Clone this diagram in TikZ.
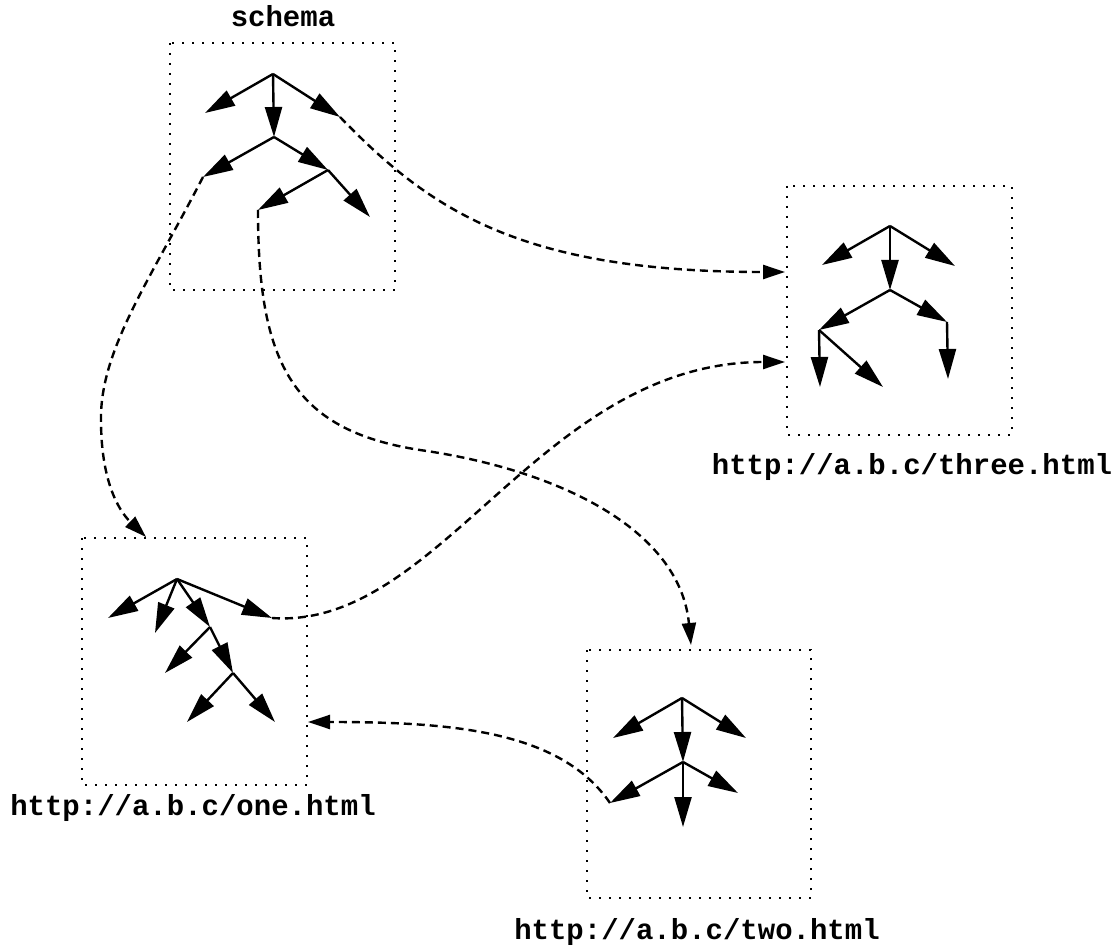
\documentclass[tikz,border=0pt]{standalone}
\usepackage{fontspec}
\setmonofont{Liberation Mono}
\usetikzlibrary{arrows.meta}
\tikzset{
	page/.style={draw, line width=2pt, dash pattern=on 2pt off 8pt},
	branch/.style={line width=2.4pt, -{Triangle[length=30pt,width=17pt]}},
	link/.style={line width=2.4pt, dash pattern=on 8pt off 5pt, -{Triangle[length=22pt,width=14pt]}},
	url/.style={font=\fontsize{29}{30}\selectfont\ttfamily\bfseries, inner sep=0pt}
}

\begin{document}
\begin{tikzpicture}[x=1pt, y=-1pt]
		%%%%% START %%%%%
		\useasboundingbox (0,0) rectangle (1119,949);
		
		% the four documents
		\draw[page] (170,43) rectangle (395,290);
		\draw[page] (787,186) rectangle (1012,435);
		\draw[page] (82,538) rectangle (307,785);
		\draw[page] (587,650) rectangle (811,898);
		
		\node[url] (lschema) at (283,16) {schema};
		\node[url] (lthree) at (912,467) {http://a.b.c/three.html};
		\node[url] (lone) at (193,808) {http://a.b.c/one.html};
		\node[url] (ltwo) at (697,932) {http://a.b.c/two.html};
		
		% schema tree
		\coordinate (s0) at (273,74);
		\coordinate (s1) at (205,113);
		\coordinate (s2) at (274,137);
		\coordinate (s3) at (340,117);
		\coordinate (s4) at (203,177);
		\coordinate (s5) at (328,170);
		\coordinate (s6) at (258,210);
		\coordinate (s7) at (370,217);
		\draw[branch] (s0) -- (s1);
		\draw[branch] (s0) -- (s2);
		\draw[branch] (s0) -- (s3);
		\draw[branch] (s2) -- (s4);
		\draw[branch] (s2) -- (s5);
		\draw[branch] (s5) -- (s6);
		\draw[branch] (s5) -- (s7);
		
		% three.html tree
		\coordinate (t0) at (890,226);
		\coordinate (t1) at (822,265);
		\coordinate (t2) at (890,290);
		\coordinate (t3) at (955,266);
		\coordinate (t4) at (819,330);
		\coordinate (t5) at (947,322);
		\coordinate (t6) at (820,387);
		\coordinate (t7) at (883,387);
		\coordinate (t8) at (948,379);
		\draw[branch] (t0) -- (t1);
		\draw[branch] (t0) -- (t2);
		\draw[branch] (t0) -- (t3);
		\draw[branch] (t2) -- (t4);
		\draw[branch] (t2) -- (t5);
		\draw[branch] (t4) -- (t6);
		\draw[branch] (t4) -- (t7);
		\draw[branch] (t5) -- (t8);
		
		% one.html tree
		\coordinate (o0) at (177,579);
		\coordinate (o1) at (108,618);
		\coordinate (o2) at (155,633);
		\coordinate (o3) at (210,627);
		\coordinate (o4) at (272,618);
		\coordinate (o5) at (165,673);
		\coordinate (o6) at (233,673);
		\coordinate (o7) at (187,722);
		\coordinate (o8) at (275,722);
		\draw[branch] (o0) -- (o1);
		\draw[branch] (o0) -- (o2);
		\draw[branch] (o0) -- (o3);
		\draw[branch] (o0) -- (o4);
		\draw[branch] (o3) -- (o5);
		\draw[branch] (o3) -- (o6);
		\draw[branch] (o6) -- (o7);
		\draw[branch] (o6) -- (o8);
		
		% two.html tree
		\coordinate (w0) at (682,698);
		\coordinate (w1) at (613,738);
		\coordinate (w2) at (683,762);
		\coordinate (w3) at (746,738);
		\coordinate (w4) at (610,803);
		\coordinate (w5) at (683,827);
		\coordinate (w6) at (738,793);
		\draw[branch] (w0) -- (w1);
		\draw[branch] (w0) -- (w2);
		\draw[branch] (w0) -- (w3);
		\draw[branch] (w2) -- (w4);
		\draw[branch] (w2) -- (w5);
		\draw[branch] (w2) -- (w6);
		
		% links between documents
		\coordinate (inthreea) at (785,272);
		\coordinate (inthreeb) at (785,362);
		\coordinate (inone) at (146,537);
		\coordinate (intwo) at (691,645);
		\coordinate (inoneside) at (308,722);
		
		\draw[link] (s3) .. controls (430,210) and (520,272) .. (inthreea);
		\draw[link] (s4) .. controls (150,280) and (100,350) .. (101,420)
			.. controls (101,480) and (118,510) .. (inone);
		\draw[link] (s6) .. controls (258,360) and (290,430) .. (420,450)
			.. controls (560,470) and (680,530) .. (intwo);
		\draw[link] (o4) .. controls (440,630) and (540,362) .. (inthreeb);
		\draw[link] (w4) .. controls (560,730) and (450,722) .. (inoneside);
		
		%%%%% END %%%%%
	\end{tikzpicture}
\end{document}
